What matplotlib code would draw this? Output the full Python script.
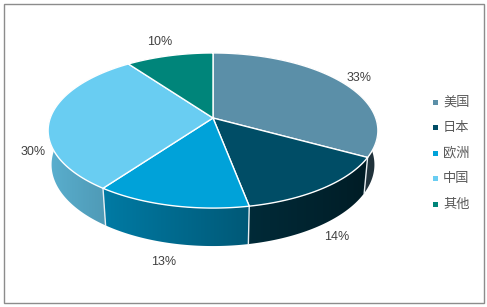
import numpy as np
import matplotlib
matplotlib.use('Agg')
import matplotlib.pyplot as plt
from matplotlib.patches import Polygon, Rectangle
from matplotlib.colors import to_rgb

plt.rcParams['font.family'] = ['Liberation Sans', 'Noto Sans CJK SC', 'DejaVu Sans']

labels = ['美国', '日本', '欧洲', '中国', '其他']
shares = [33, 14, 13, 30, 10]
colors = ['#5b8fa8', '#004d66', '#00a2d9', '#69cdf2', '#00857a']

# fake 3d camera, tuned by eye against the excel render (pixel units)
ELEV = np.radians(28)
DIST = 5.47
KX, KY = 890, 880
CX, CY = 213, 118
THICK = 0.243


def project(x, y, z=0.0):
    c, s = np.cos(ELEV), np.sin(ELEV)
    depth = DIST + y * c - z * s
    return CX + KX * x / depth, CY - KY * (y * s + z * c) / depth, depth


def rim(phi, z=0.0, r=1.0):
    # phi in degrees, clockwise from 12 o'clock
    p = np.radians(phi)
    return project(r * np.sin(p), r * np.cos(p), z)


def shade(color, phi):
    f = 0.6 - 0.27 * np.sin(np.radians(phi))  # light from the left
    return np.clip(np.outer(f, to_rgb(color)), 0, 1)


def side_visible(phi):
    return np.cos(np.radians(phi)) < -1 / (DIST * np.cos(ELEV))


def draw_side(ax, a0, a1, color):
    ph = np.linspace(a0, a1, 200)
    top = [rim(p)[:2] for p in ph]
    bot = [rim(p, -THICK)[:2] for p in ph[::-1]]
    poly = Polygon(top + bot, closed=True, facecolor='none', edgecolor='none')
    ax.add_patch(poly)

    # horizontal gradient: colour of each column from the front arc angle
    vis = ph[side_visible(ph)]
    if len(vis) < 2:
        vis = ph
    xs = np.array([rim(p)[0] for p in vis])
    order = np.argsort(xs)
    pts = np.array(top + bot)
    x0, x1 = pts[:, 0].min() - 1, pts[:, 0].max() + 1
    y0, y1 = pts[:, 1].min() - 1, pts[:, 1].max() + 1
    cols = np.linspace(x0, x1, 200)
    phi_col = np.interp(cols, xs[order], vis[order])
    img = shade(color, phi_col)[None, :, :]
    im = ax.imshow(img, extent=(x0, x1, y1, y0), aspect='auto',
                   interpolation='bilinear', zorder=1)
    im.set_clip_path(poly)


def main():
    fig = plt.figure(figsize=(4.87, 3.07), dpi=100)
    ax = fig.add_axes([0, 0, 1, 1])

    total = sum(shares)
    edges = np.concatenate([[0], np.cumsum(shares)]) * 360 / total

    # side walls (back ones end up hidden under the top face)
    for k in range(len(shares)):
        draw_side(ax, edges[k], edges[k + 1], colors[k])

    # white seams on the visible side
    for e in edges[:-1]:
        if side_visible(e):
            t, b = rim(e), rim(e, -THICK)
            ax.plot([t[0], b[0]], [t[1], b[1]], color='#e8eef2', lw=1, zorder=2)

    # top face
    for k in range(len(shares)):
        ph = np.linspace(edges[k], edges[k + 1], 120)
        pts = [(CX, CY)] + [rim(p)[:2] for p in ph]
        ax.add_patch(Polygon(pts, closed=True, facecolor=colors[k], zorder=3,
                             edgecolor='white', lw=1, joinstyle='round'))

    # percentage labels
    for k in range(len(shares)):
        mid = (edges[k] + edges[k + 1]) / 2
        front = np.cos(np.radians(mid)) <= 0
        z = -THICK if front else 0.0
        p = np.array(rim(mid, z)[:2])
        q = np.array(rim(mid, z, 1.1)[:2])
        d = (q - p) / np.linalg.norm(q - p)
        x, y = p + (20 if front else 17) * d
        ax.text(x, y, f'{shares[k] / total:.0%}', ha='center', va='center',
                fontsize=9, color='#404040', zorder=4)

    # legend
    for k, name in enumerate(labels):
        y = 102 + 25.5 * k
        ax.add_patch(Rectangle((432.5, y - 2.5), 5, 5, facecolor=colors[k], edgecolor='none'))
        ax.text(443, y, name, ha='left', va='center', fontsize=9.5,
                color='#595959', family=['Noto Sans CJK SC', 'DejaVu Sans'])

    # chart border
    ax.add_patch(Rectangle((3.5, 3.5), 480, 299.5, facecolor='none',
                           edgecolor='#8c8c8c', lw=1))

    ax.set_xlim(0, 487)
    ax.set_ylim(307, 0)
    ax.axis('off')
    fig.savefig('out.png', dpi=100)


main()
